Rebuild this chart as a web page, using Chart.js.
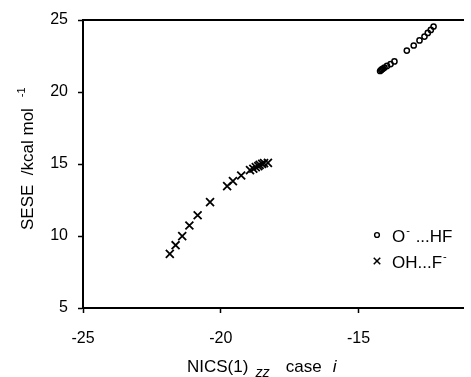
<!DOCTYPE html>
<html><head><meta charset="utf-8">
<script src="https://cdn.jsdelivr.net/npm/chart.js@4.4.0/dist/chart.umd.min.js"></script>
<style>html,body{margin:0;padding:0;background:#fff;}#wrap{position:absolute;left:0;top:0;width:471px;height:377px;}</style>
</head><body><div id="wrap"><canvas id="c" width="471" height="377"></canvas></div>
<script>
// ---- data ----
const seriesLabels = ['O⁻...HF', 'OH...F⁻'];
const circleX = [-14.22, -14.18, -14.15, -14.11, -14.06, -13.97, -13.84, -13.70, -13.25, -13.00, -12.79, -12.61, -12.49, -12.38, -12.28];
const circleY = [21.46, 21.53, 21.58, 21.63, 21.70, 21.81, 21.94, 22.12, 22.88, 23.23, 23.58, 23.85, 24.10, 24.31, 24.55];
const crossX = [-21.85, -21.64, -21.40, -21.14, -20.84, -20.39, -19.77, -19.56, -19.26, -18.94, -18.82, -18.73, -18.64, -18.59, -18.50, -18.43, -18.29];
const crossY = [8.76, 9.36, 9.99, 10.73, 11.44, 12.35, 13.46, 13.81, 14.20, 14.57, 14.67, 14.78, 14.85, 14.94, 15.01, 15.06, 15.08];
const xTickValues = [-25, -20, -15];
const yTickValues = [5, 10, 15, 20, 25];
const xRange = [-25, -11.19];
const yRange = [5, 25];
// axis titles / legend text as segments [text, style, x-advance-gap]
const xTitleParts = [['NICS(1)', 'n', 7], ['zz', 'sub', 16], ['case', 'n', 11], ['i', 'it', 0]];
const yTitleParts = [['SESE  /kcal mol', 'n', 11], ['-1', 'sup', 0]];
const legendParts = [
  [['O', 'n', 1], ['-', 'sup', 1], [' ...HF', 'n', 0]],
  [['OH...F', 'n', 1], ['-', 'sup', 0]]
];

const FONT = "'Liberation Sans', Arial, sans-serif";
const toPts = (xs, ys) => xs.map((x, i) => ({x: x, y: ys[i]}));

function drawParts(ctx, parts, x, y, size) {
  let cx = x;
  for (const [t, s, gap] of parts) {
    let fs = size, dy = 0, style = '';
    if (s === 'sub') { fs = size * 0.85; dy = size * 0.3; style = 'italic '; }
    if (s === 'sup') { fs = size * 0.65; dy = -size * 0.45; }
    if (s === 'it') { style = 'italic '; }
    ctx.font = style + fs + 'px ' + FONT;
    ctx.fillText(t, cx, y + dy);
    cx += ctx.measureText(t).width + gap;
  }
}

const decor = {
  id: 'decor',
  afterDraw(chart) {
    const ctx = chart.ctx;
    ctx.save();
    ctx.fillStyle = '#000';
    ctx.textBaseline = 'alphabetic';
    ctx.textAlign = 'left';
    // x title
    drawParts(ctx, xTitleParts, 187, 372, 17);
    // y title (rotated)
    ctx.save();
    ctx.translate(33, 230);
    ctx.rotate(-Math.PI / 2);
    drawParts(ctx, yTitleParts, 0, 0, 17);
    ctx.restore();
    // legend
    const ds = chart.data.datasets;
    const rows = [235, 261];
    ds.forEach((d, i) => {
      ctx.save();
      ctx.fillStyle = 'rgba(255,255,255,0)';
      ctx.strokeStyle = '#000';
      ctx.lineWidth = i === 0 ? 1.4 : 1.5;
      Chart.helpers.drawPoint(ctx, {
        pointStyle: d.pointStyle,
        radius: i === 0 ? 2.4 : 4.6,
        borderWidth: i === 0 ? 1.4 : 1.5,
        rotation: 0
      }, 377, rows[i]);
      ctx.restore();
      ctx.fillStyle = '#000';
      drawParts(ctx, legendParts[i], 392, rows[i] + 6.5, 17);
    });
    ctx.restore();
  }
};

new Chart(document.getElementById('c'), {
  type: 'scatter',
  data: {
    datasets: [
      { label: seriesLabels[0], data: toPts(circleX, circleY), pointStyle: 'circle', radius: 2.6, borderWidth: 1.5,
        borderColor: '#000', backgroundColor: 'rgba(255,255,255,0)' },
      { label: seriesLabels[1], data: toPts(crossX, crossY), pointStyle: 'crossRot', radius: 5.6, borderWidth: 1.8,
        borderColor: '#000', backgroundColor: '#000' }
    ]
  },
  options: {
    responsive: false,
    animation: false,
    events: [],
    layout: { padding: 0 },
    plugins: { legend: { display: false }, tooltip: { enabled: false } },
    scales: {
      x: {
        type: 'linear', position: 'bottom', min: xRange[0], max: xRange[1],
        afterBuildTicks: s => { s.ticks = xTickValues.map(v => ({ value: v })); },
        afterFit: s => { s.height = 69; },
        ticks: { color: '#000', font: { family: FONT, size: 16 }, padding: 16, maxRotation: 0, autoSkip: false },
        grid: { drawOnChartArea: false, drawTicks: true, tickLength: 5, tickColor: '#000', tickWidth: 1.5 },
        border: { display: true, color: '#000', width: 2 }
      },
      xTop: {
        type: 'linear', position: 'top', min: xRange[0], max: xRange[1],
        afterFit: s => { s.height = 20; },
        ticks: { display: false },
        grid: { display: false, drawTicks: false },
        border: { display: true, color: '#000', width: 2 }
      },
      y: {
        type: 'linear', position: 'left', min: yRange[0], max: yRange[1],
        afterBuildTicks: s => { s.ticks = yTickValues.map(v => ({ value: v })); },
        afterFit: s => { s.width = 83; },
        ticks: { color: '#000', font: { family: FONT, size: 16 }, padding: 10 },
        grid: { drawOnChartArea: false, drawTicks: true, tickLength: 5, tickColor: '#000', tickWidth: 1.5 },
        border: { display: true, color: '#000', width: 2 }
      }
    }
  },
  plugins: [decor]
});
</script></body></html>
